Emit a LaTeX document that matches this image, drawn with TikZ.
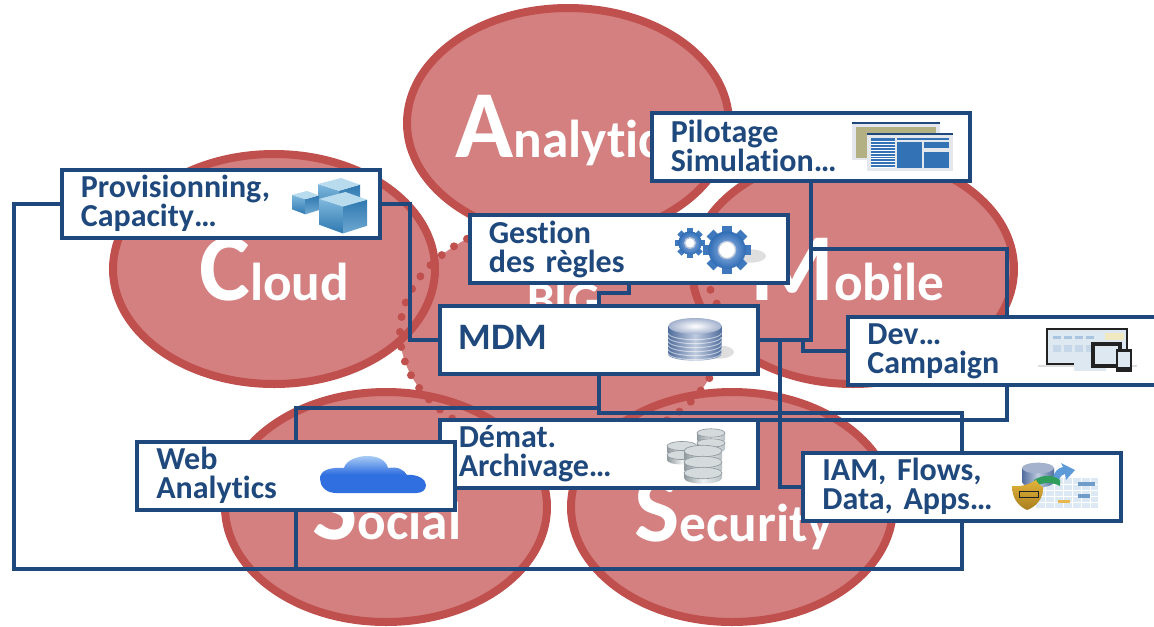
\documentclass[tikz,border=0pt]{standalone}
\usepackage{fontspec}
\setmainfont[Ligatures={NoCommon,TeX},WordSpace=0.75]{Carlito}
\usetikzlibrary{shapes.geometric}
\pgfdeclarelayer{under}
\pgfsetlayers{under,main}
\definecolor{navy}{HTML}{1F497D}
\definecolor{rim}{HTML}{C0504D}
\definecolor{rose}{HTML}{D48080}
\definecolor{cubeA}{HTML}{7FB8DD}
\definecolor{cubeB}{HTML}{2E78B0}
\definecolor{cubeC}{HTML}{6FA9D2}
\definecolor{cubeT}{HTML}{B8DBEE}
\definecolor{gearA}{HTML}{3F78BC}
\definecolor{gearB}{HTML}{9DBDE8}
\definecolor{gearC}{HTML}{2F6CB5}
\definecolor{gearD}{HTML}{B8C4D8}
\definecolor{discA}{HTML}{8F999E}
\definecolor{discB}{HTML}{B9C1C5}
\definecolor{discC}{HTML}{EEF1F2}
\definecolor{discT}{HTML}{D5DADD}
\definecolor{dbA}{HTML}{4F6C9C}
\definecolor{dbB}{HTML}{BFCBDF}
\definecolor{dbT}{HTML}{A4B2CE}
\definecolor{winO}{HTML}{B3B083}
\definecolor{winB}{HTML}{3373B5}
\definecolor{winF}{HTML}{E4E7EC}
\definecolor{cldA}{HTML}{A8CBF5}
\definecolor{cldB}{HTML}{2F6FE0}
\definecolor{shA}{HTML}{DEDEDE}
\definecolor{devA}{HTML}{222222}
\definecolor{devB}{HTML}{DDE8F0}
\definecolor{devC}{HTML}{EFE8C0}
\definecolor{tabA}{HTML}{DCE8F4}
\definecolor{tabB}{HTML}{6F9CC8}
\definecolor{tabC}{HTML}{E8B850}
\definecolor{shiA}{HTML}{E3B33A}
\definecolor{shiB}{HTML}{A87F20}
\definecolor{grnA}{HTML}{2E9E5A}
\definecolor{bluA}{HTML}{5C9BD8}
\newcommand{\bigL}[2]{{\fontsize{72}{72}\selectfont #1}{\fontsize{40}{40}\selectfont #2}}
\tikzset{
  blob/.style={ellipse,draw=rim,fill=rose,line width=6pt,inner sep=0pt,outer sep=0pt,minimum width=241.5pt,minimum height=172.5pt},
  word/.style={anchor=base west,inner sep=0pt,text=white,font=\bfseries},
  conn/.style={draw=navy,line width=3pt,line join=miter},
  panel/.style={draw=navy,fill=white,line width=3pt,inner xsep=14.5pt,inner ysep=0pt,outer sep=0pt,
    text width=209.5pt,minimum height=51pt,align=left,text=navy,
    font=\fontsize{24}{21.75}\selectfont\bfseries}
}
% isometric cube: x y size
\newcommand{\icoCube}[3]{%
  \begin{scope}[shift={(#1,#2)},x=#3*0.75pt,y=-#3*0.6pt]
    \shade[top color=cubeA,bottom color=cubeB] (0,0.18)--(0.5,0.38)--(0.5,1.08)--(0,0.85)--cycle;
    \shade[top color=cubeB,bottom color=cubeC] (0.5,0.38)--(1,0.2)--(1,0.88)--(0.5,1.08)--cycle;
    \fill[cubeT] (0,0.18)--(0.55,0)--(1,0.2)--(0.5,0.38)--cycle;
  \end{scope}}
% gear: x y radius
\newcommand{\icoGear}[3]{%
  \begin{scope}[shift={(#1,#2)}]
    \foreach \a in {0,45,...,315}{
      \fill[rotate=\a,gearA] (-0.2*#3,0) rectangle (0.2*#3,#3);}
    \shade[inner color=gearB,outer color=gearC] (0,0) circle [radius=0.78*#3*0.75pt];
    \fill[white] (0,0) circle [radius=0.36*#3*0.75pt];
    \draw[gearD,line width=1pt] (0,0) circle [radius=0.36*#3*0.75pt];
  \end{scope}}
% disc: x y rx thickness
\newcommand{\icoDisc}[4]{%
  \shade[left color=discA,right color=discB,middle color=discC]
    (#1-#3,#2) -- (#1-#3,#2+#4) arc[start angle=180,end angle=360,x radius=#3*0.75pt,y radius=0.3*#3*0.75pt]
    -- (#1+#3,#2) -- cycle;
  \draw[discA,line width=.5pt,fill=discT] (#1,#2) ellipse [x radius=#3*0.75pt,y radius=0.3*#3*0.75pt];}
\begin{document}
\begin{tikzpicture}[x=0.75pt,y=-0.75pt]
\useasboundingbox (0,0) rectangle (1154,626);
\clip (0,0) rectangle (1154,626);
\begin{pgfonlayer}{under}
% circles
\fill[rose] (561,333) ellipse [x radius=120.75pt,y radius=87pt];
\node[blob] (eAna) at (568,123) {};
\node[blob] (eClo) at (274,269) {};
\node[blob] (eMob) at (853,269) {};
\node[blob] (eSoc) at (386,507) {};
\node[blob] (eSec) at (732,507) {};
\draw[rim,line width=6pt,line cap=round,dash pattern=on 0pt off 11.3pt] (561,333) ellipse [x radius=120.75pt,y radius=87pt];
% big words
\node[word] (tAna) at (455,157) {\bigL{A}{nalytics}};
\node[word] (tClo) at (199,300) {\bigL{C}{loud}};
\node[word] (tMob) at (750,300) {\bigL{M}{obile}};
\node[word] (tSoc) at (312,539) {\bigL{S}{ocial}};
\node[word] (tSec) at (634,541) {\bigL{S}{ecurity}};
\node[word,font=\fontsize{37}{37}\selectfont\bfseries] (tBig) at (527,316) {BIG};
\end{pgfonlayer}
% panels and their pictures
\node[panel,minimum width=238.5pt] (nDem) at (598.5,453.5) {D\'emat.\\Archivage…};
\icoDisc{711}{433}{14}{7}\icoDisc{711}{443}{14}{6}
\icoDisc{682}{446}{15}{6}\icoDisc{682}{455}{15}{5}
\icoDisc{703}{451}{19}{8}\icoDisc{703}{462}{19}{8}\icoDisc{703}{473}{19}{5}
\node[panel,minimum width=238.5pt] (nProv) at (220.5,203.5) {Provisionning,\\Capacity…};
\icoCube{318}{178}{42}
\icoCube{292}{191}{27}
\icoCube{319}{192}{48}
\node[panel,minimum width=238.5pt] (nPil) at (810.5,147) {\raisebox{2pt}{Pilotage}\\\raisebox{2pt}{Simulation…}};
\fill[winF] (852,122) rectangle (940,160);
\fill[navy] (852,122) rectangle (940,124);
\fill[winO] (856,127) rectangle (890,158);
\fill[winO] (883,127) rectangle (936,133);
\fill[white] (867,133) rectangle (953,171);
\fill[winF] (867,133) rectangle (953,171);
\fill[navy] (867,133) rectangle (953,135);
\fill[winB] (871,138) rectangle (895,168);
\foreach \k in {0,1,...,9}{\fill[white] (871,141+\k*2.9) rectangle (895,142+\k*2.9);}
\fill[winB] (897,142) rectangle (922,168);
\fill[winB] (924,142) rectangle (949,148);
\fill[winB] (924,152) rectangle (949,168);
\fill[winB] (897,138) rectangle (949,140);
\node[panel,minimum width=238.5pt] (nGes) at (628.5,249) {Gestion\\des règles};
\fill[shA] (750,256) ellipse [x radius=12pt,y radius=5pt];
\icoGear{690}{243}{15}
\icoGear{727}{250}{24}
\node[panel,minimum width=238.5pt,font=\fontsize{28}{28}\selectfont\bfseries] (nMDM) at (598.5,339.5) {\raisebox{3pt}{MDM}};
\fill[shA] (718,352) ellipse [x radius=12pt,y radius=5pt];
\shade[left color=dbA,right color=dbA,middle color=dbB] (668,326) -- (668,354) arc[start angle=180,end angle=360,x radius=20pt,y radius=5pt] -- (722,326) -- cycle;
\foreach \k in {0,1,...,5}{\draw[white,opacity=.55,line width=.7pt] (668,333+\k*4) arc[start angle=180,end angle=360,x radius=20pt,y radius=5pt];}
\shade[inner color=white,outer color=dbT] (695,326) ellipse [x radius=20pt,y radius=6pt];
\node[panel,minimum width=238.5pt] (nDev) at (1007,351) {\raisebox{-1.5pt}{Dev…}\\\raisebox{-1.5pt}{Campaign}};
\fill[devB] (1047,329) rectangle (1127,364);
\draw[devA,line width=1.5pt] (1047,329) rectangle (1127,364);
\fill[devC] (1105,333) rectangle (1124,340);
\foreach \k in {0,1,2,3}{\fill[tabB!60] (1053+\k*11,336) rectangle (1061+\k*11,339);\fill[tabB!40] (1053+\k*11,345) rectangle (1061+\k*11,352);}
\draw[shA,line width=1.5pt] (1038,366) -- (1137,366);
\fill[devB] (1074,360) rectangle (1106,371);
\fill[devA] (1091,342) rectangle (1122,368);
\fill[devB] (1095,346) rectangle (1118,364);
\fill[devA] (1116,349) rectangle (1132,372);
\fill[devB] (1118,352) rectangle (1130,367);
\node[panel,minimum width=238.5pt] (nIAM) at (962,486.5) {IAM, Flows,\\Data, Apps…};
\fill[tabA] (1036,478) rectangle (1098,508);
\foreach \k in {1,2,...,6}{\draw[white,line width=.7pt] (1036+\k*9,478) -- (1036+\k*9,508);}
\foreach \k in {1,2,3,4}{\draw[white,line width=.7pt] (1036,478+\k*6) -- (1098,478+\k*6);}
\fill[tabB] (1078,482) rectangle (1095,486);
\fill[tabB] (1078,494) rectangle (1090,498);
\fill[tabC] (1058,500) rectangle (1070,503);
\shade[left color=dbA,right color=dbA,middle color=dbB] (1022,468) -- (1022,482) arc[start angle=180,end angle=360,x radius=12pt,y radius=4pt] -- (1054,468) -- cycle;
\fill[dbT] (1038,468) ellipse [x radius=12pt,y radius=4pt];
\fill[bluA] (1053,480) .. controls (1053,472) and (1058,468) .. (1063,467) -- (1061,463) -- (1075,470) -- (1066,480) -- (1065,474) .. controls (1061,475) and (1059,478) .. (1059,482) -- cycle;
\fill[grnA] (1034,480) .. controls (1042,475) and (1052,474) .. (1060,480) -- (1060,486) .. controls (1052,482) and (1044,482) .. (1036,486) -- cycle;
\shade[top color=shiA,bottom color=shiB] (1012,486) .. controls (1022,487) and (1030,484) .. (1036,480) .. controls (1038,484) and (1041,486) .. (1043,487) .. controls (1044,498) and (1036,507) .. (1027,510) .. controls (1018,506) and (1012,498) .. (1012,486) -- cycle;
\draw[devA,line width=.6pt] (1019,491) rectangle (1038,497);
\node[panel,minimum width=238.5pt] (nWeb) at (296,475.5) {Web\\Analytics};
\shade[top color=cldA,bottom color=cldB,middle color=cldB] (336,493) .. controls (326,493) and (320,486) .. (320,479) .. controls (320,470) and (330,467) .. (344,468) .. controls (346,460) and (358,456) .. (367,456) .. controls (378,456) and (386,460) .. (388,468) .. controls (398,466) and (404,470) .. (407,475) .. controls (417,474) and (426,479) .. (426,485) .. controls (426,490) and (422,493) .. (416,493) -- cycle;
% connectors, under the panels
\coordinate (jB) at (nMDM.south |- 0,408);
\coordinate (jC) at (nWeb.south |- 0,569);
\coordinate (jR) at (962,413);
\coordinate (jH) at (962,569);
\coordinate (jL) at (14,569);
\coordinate (jT) at (nGes.south |- 0,293);
\coordinate (jP) at (409.5,203.5);
\coordinate (jE) at (780,339.5);
\coordinate (jF) at (802.5,339.5);
\coordinate (jD) at (nPil.south |- 0,249);
\coordinate (jG) at (1007,249);
\begin{pgfonlayer}{under}
\draw[conn] (nMDM.south) |- (jR) -- (jH) -- (jL) |- (nProv.west);
\draw[conn] (jB) -| (jC);
\draw[conn] (nMDM.north) |- (jT) -- (nGes.south);
\draw[conn] (nProv.east) -- (jP) |- (nMDM.west);
\draw[conn] (nMDM.east) -- (jE) |- (nIAM.west);
\draw[conn] (nPil.south) |- (nMDM.east);
\draw[conn] (nDev.west) -| (jF);
\draw[conn] (nDem.north east) -| (jG) -- (jD);
\end{pgfonlayer}
\end{tikzpicture}
\end{document}
